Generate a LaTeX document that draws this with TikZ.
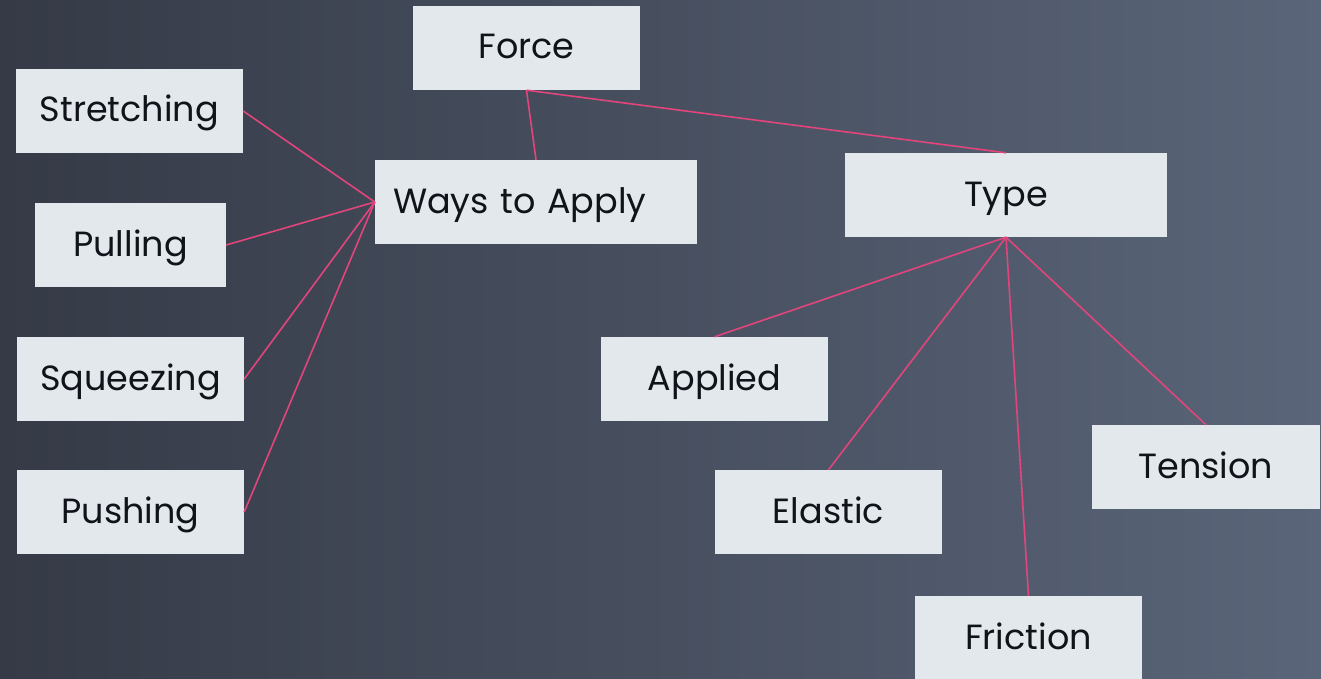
\documentclass[tikz,border=0pt]{standalone}
\usepackage{fontspec}
\setmainfont{Poppins}
\usetikzlibrary{shapes,arrows}

\definecolor{bgleft}{HTML}{353A46}
\definecolor{bgright}{HTML}{5A6579}
\definecolor{boxfill}{HTML}{E3E8ED}
\definecolor{boxtext}{HTML}{10131A}
\definecolor{linkpink}{HTML}{E2457C}

\begin{document}
\begin{tikzpicture}[x=1pt,y=-1pt,
    block_center/.style ={rectangle, draw=none, fill=boxfill, text=boxtext,
      minimum width=227pt, minimum height=84pt, inner sep=0pt,
      text height=25pt, text depth=3pt,
      font=\fontsize{35}{40}\selectfont},
    block_wide/.style ={block_center, minimum width=322pt},
    block_left/.style ={block_center, minimum width=322pt,
      text width=286pt, align=left, inner xsep=18pt},
    line/.style ={draw=linkpink, line width=1.6pt}]
    % background with the left to right fade
    \useasboundingbox (0,0) rectangle (1321,679);
    \shade[left color=bgleft, right color=bgright] (0,0) rectangle (1321,679);
    % top of the tree
    \node [block_center] (force) at (526.5,48) {Force};
    \node [block_left] (ways) at (536,202) {Ways to Apply};
    \node [block_wide] (type) at (1006,195) {Type};
    % ways to apply a force
    \node [block_center] (stretching) at (129.5,111) {Stretching};
    \node [block_center, minimum width=191pt] (pulling) at (130.5,245) {Pulling};
    \node [block_center] (squeezing) at (130.5,379) {Squeezing};
    \node [block_center] (pushing) at (130.5,512) {Pushing};
    % types of force
    \node [block_center] (applied) at (714.5,379) {Applied};
    \node [block_center] (elastic) at (828.5,512) {Elastic};
    \node [block_center, minimum width=228pt] (tension) at (1206,467) {Tension};
    \node [block_center] (friction) at (1028.5,638) {Friction};
    % connecting nodes with paths
    \begin{scope}[every path/.style=line]
      \path (force.south) -- (ways.north);
      \path (force.south) -- (type.north);
      \path (stretching.east) -- (ways.west);
      \path (pulling.east) -- (ways.west);
      \path (squeezing.east) -- (ways.west);
      \path (pushing.east) -- (ways.west);
      \path (type.south) -- (applied.north);
      \path (type.south) -- (elastic.north);
      \path (type.south) -- (friction.north);
      \path (type.south) -- (tension.north);
    \end{scope}
  \end{tikzpicture}
\end{document}
